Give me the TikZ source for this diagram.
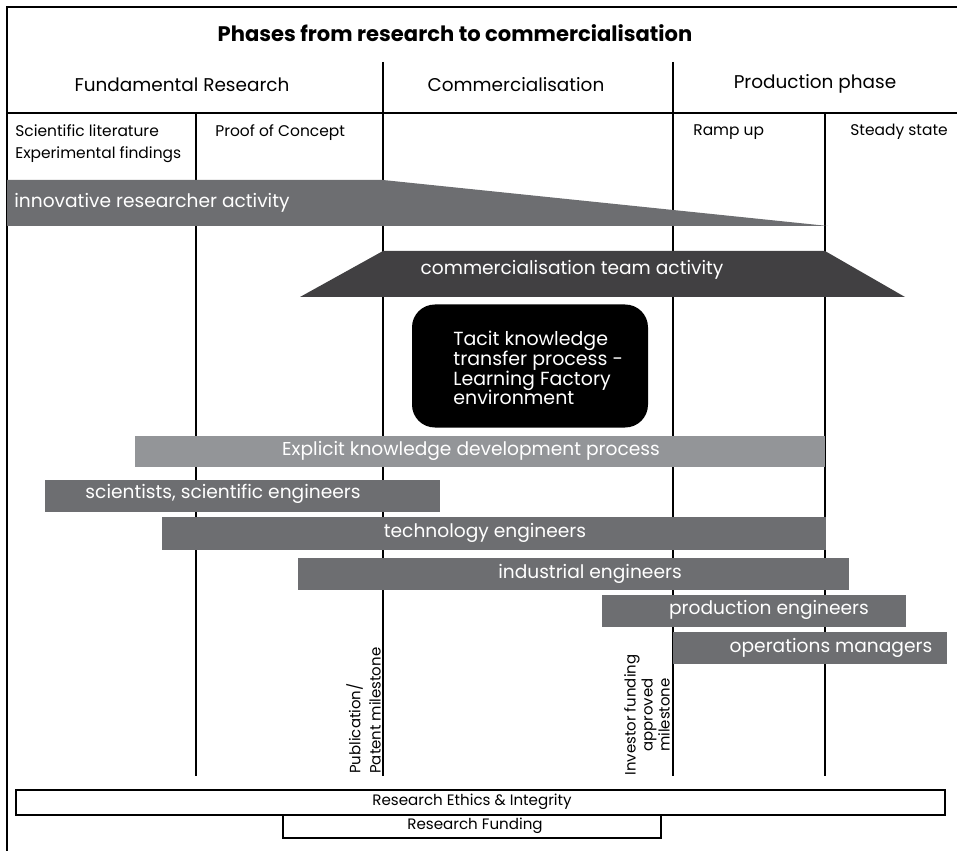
\documentclass[tikz,border=0pt]{standalone}
\usepackage{fontspec}
\setmainfont{Poppins}
\usetikzlibrary{positioning}
\definecolor{bargrey}{HTML}{6D6E71}
\definecolor{lightbar}{HTML}{939598}
\definecolor{darkbar}{HTML}{414042}

\begin{document}
\begin{tikzpicture}[x=0.02cm,y=-0.02cm,
    rule/.style={line width=1.1pt,black},
    frame/.style={line width=1.4pt,black,fill=white},
    bartext/.style={text=white,inner sep=0pt,font=\fontsize{10.6}{12}\selectfont},
    headtext/.style={inner sep=0pt,font=\fontsize{10.5}{12}\selectfont},
    subtext/.style={inner sep=0pt,anchor=north west,align=left,font=\fontsize{8.8}{12.5}\selectfont},
    miletext/.style={inner sep=0pt,rotate=90,font=\fontsize{8.5}{8.5}\selectfont},
    boxtext/.style={inner sep=0pt,font=\fontsize{8.6}{9}\selectfont}]
    \def\barbox(#1,#2)(#3,#4)#5{\fill[#5] (#1,#2) rectangle (#3,#4);}
    \useasboundingbox (0,0) rectangle (957,851);
    \draw[rule] (957,7) -- (7,7) -- (7,851);
    \draw[rule] (7,113) -- (957,113);
    \foreach \x in {383,673} {
      \draw[rule] (\x,62) -- (\x,776);
    }
    \foreach \x in {196,825} {
      \draw[rule] (\x,113) -- (\x,776);
    }
    \node[font=\bfseries\fontsize{12}{14}\selectfont,inner sep=0pt] (title) at (455,33) {Phases from research to commercialisation};
    \node[headtext] (fundamental) at (182,85) {Fundamental Research};
    \node[headtext] (commercial) at (516,85) {Commercialisation};
    \node[headtext] (production) at (815,84) {Production phase};
    \node[subtext] (literature) at (15,124) {Scientific literature\\Experimental findings};
    \node[subtext] (concept) at (215,124) {Proof of Concept};
    \node[subtext] (ramp) at (693,124) {Ramp up};
    \node[subtext] (steady) at (850,124) {Steady state};
    \fill[bargrey] (7,180) -- (383,180) -- (828,226) -- (7,226) -- cycle;
    \node[bartext,anchor=west] (researcher) at (14,203) {innovative researcher activity};
    \fill[darkbar] (383,251) -- (825,251) -- (905,297) -- (300,297) -- cycle;
    \node[bartext] (team) at (572,270) {commercialisation team activity};
    \node[fill=black,rounded corners=13pt,minimum width=236*0.02cm,minimum height=123*0.02cm] (tacitbox) at (530,366) {};
    \node[text=white,inner sep=0pt,anchor=west,align=left,font=\fontsize{10.8}{11.3}\selectfont] (tacit) at (453,368)
      {Tacit knowledge\\transfer process -\\Learning Factory\\environment};
    \barbox(135,436)(825,467){lightbar}
    \node[bartext] (explicit) at (471,451) {Explicit knowledge development process};
    \barbox(45,480)(440,512){bargrey}
    \node[bartext] (scientists) at (223,494) {scientists, scientific engineers};
    \barbox(162,517)(826,550){bargrey}
    \node[bartext] (technology) at (485,533) {technology engineers};
    \barbox(298,558)(849,590){bargrey}
    \node[bartext] (industrial) at (590,574) {industrial engineers};
    \barbox(602,595)(906,627){bargrey}
    \node[bartext] (prodeng) at (769,610) {production engineers};
    \barbox(673,632)(947,664){bargrey}
    \node[bartext] (operations) at (831,648) {operations managers};
    \node[miletext,anchor=south west,align=left,font=\fontsize{8.5}{11.5}\selectfont] (publication) at (381,774) {Publication/\\Patent milestone};
    \node[miletext,anchor=south,align=center] (investor) at (670,715) {Investor funding\\approved\\milestone};
    \draw[frame] (16,790) rectangle (945,815);
    \node[boxtext] (ethics) at (472,802) {Research Ethics \& Integrity};
    \draw[frame] (283,815) rectangle (661,838);
    \node[boxtext] (funding) at (475,826) {Research Funding};
  \end{tikzpicture}
\end{document}
